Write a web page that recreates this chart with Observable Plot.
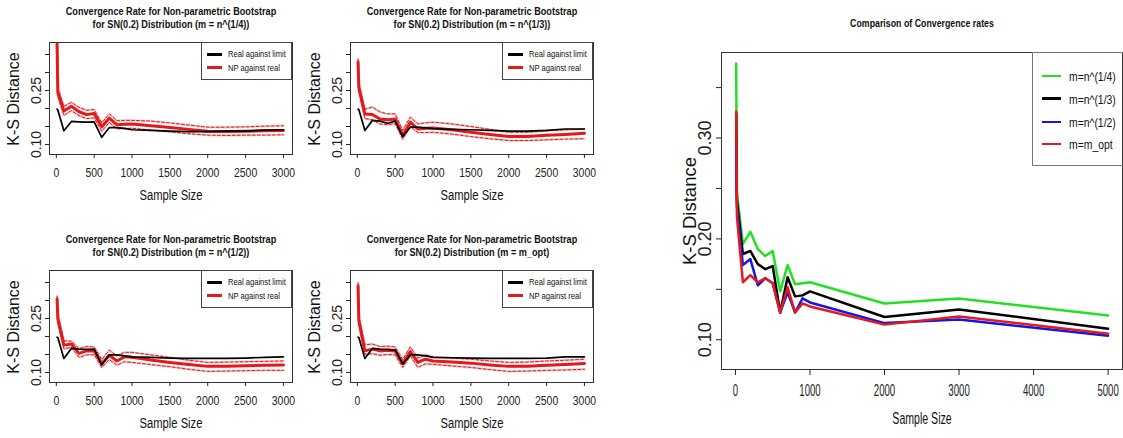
<!DOCTYPE html>
<html><head><meta charset="utf-8">
<script src="https://cdn.jsdelivr.net/npm/d3@7"></script>
<script src="https://cdn.jsdelivr.net/npm/@observablehq/plot@0.6"></script>
<style>
html,body{margin:0;padding:0;background:#fff;overflow:hidden}
#root{position:relative;width:1123px;height:438px;overflow:hidden;font-family:"Liberation Sans",Arial,sans-serif;color:#111;background:#fff}
.abs{position:absolute;white-space:nowrap;line-height:1}
.plot{position:absolute}
</style></head><body><div id="root"></div>
<script>
// ---------- data ----------
const sampleSmall = [10,20,100,200,300,400,500,600,700,800,900,1000,1250,1500,1750,2000,2250,2500,2750,3000];

const real14 = [0.198,0.196,0.138,0.164,0.163,0.162,0.163,0.120,0.147,0.147,0.145,0.141,0.139,0.137,0.136,0.136,0.137,0.137,0.140,0.141];
const np14   = [0.380,0.245,0.193,0.206,0.191,0.183,0.186,0.149,0.173,0.155,0.156,0.157,0.152,0.147,0.142,0.137,0.136,0.137,0.138,0.139];
const hi14   = [0.383,0.258,0.206,0.217,0.203,0.195,0.197,0.160,0.185,0.166,0.167,0.167,0.165,0.160,0.154,0.148,0.148,0.149,0.151,0.152];
const lo14   = [0.370,0.234,0.181,0.194,0.180,0.172,0.174,0.137,0.161,0.144,0.144,0.145,0.140,0.135,0.130,0.126,0.125,0.126,0.126,0.127];

const real13 = [0.198,0.197,0.139,0.167,0.165,0.159,0.165,0.122,0.148,0.148,0.146,0.144,0.142,0.141,0.139,0.137,0.137,0.139,0.143,0.143];
const np13   = [0.329,0.259,0.185,0.183,0.171,0.169,0.171,0.125,0.162,0.143,0.145,0.146,0.141,0.134,0.128,0.122,0.122,0.126,0.128,0.131];
const hi13   = [0.337,0.270,0.198,0.204,0.190,0.185,0.185,0.139,0.176,0.157,0.160,0.162,0.157,0.150,0.142,0.134,0.134,0.138,0.141,0.143];
const lo13   = [0.321,0.248,0.172,0.168,0.157,0.155,0.158,0.115,0.150,0.133,0.133,0.134,0.129,0.122,0.116,0.111,0.111,0.113,0.115,0.116];

const real12 = [0.198,0.197,0.139,0.167,0.165,0.164,0.165,0.121,0.149,0.149,0.146,0.1435,0.142,0.140,0.139,0.139,0.139,0.140,0.142,0.1435];
const np12   = [0.304,0.250,0.176,0.179,0.153,0.160,0.160,0.125,0.148,0.132,0.1435,0.142,0.135,0.128,0.122,0.117,0.117,0.119,0.120,0.121];
const hi12   = [0.312,0.262,0.188,0.187,0.166,0.172,0.171,0.136,0.162,0.146,0.156,0.156,0.149,0.142,0.134,0.128,0.129,0.130,0.131,0.132];
const lo12   = [0.296,0.238,0.166,0.170,0.142,0.149,0.149,0.114,0.136,0.120,0.130,0.128,0.122,0.116,0.109,0.103,0.104,0.105,0.106,0.106];

const realOpt = [0.198,0.197,0.139,0.167,0.165,0.164,0.163,0.123,0.149,0.149,0.146,0.142,0.141,0.140,0.139,0.139,0.139,0.140,0.1435,0.1435];
const npOpt   = [0.341,0.245,0.160,0.165,0.160,0.162,0.160,0.125,0.158,0.128,0.137,0.132,0.129,0.126,0.121,0.117,0.117,0.120,0.122,0.125];
const hiOpt   = [0.349,0.257,0.177,0.179,0.172,0.173,0.171,0.136,0.171,0.140,0.149,0.1435,0.140,0.137,0.132,0.128,0.129,0.132,0.134,0.137];
const loOpt   = [0.333,0.233,0.151,0.152,0.148,0.150,0.149,0.114,0.146,0.114,0.124,0.123,0.118,0.114,0.108,0.103,0.104,0.106,0.107,0.109];

const sampleBig = [10,20,100,200,300,400,500,600,700,800,900,1000,2000,3000,5000];
const bigQuarter = [0.374,0.245,0.195,0.207,0.190,0.183,0.188,0.148,0.174,0.155,0.156,0.157,0.136,0.141,0.124];
const bigThird   = [0.324,0.238,0.185,0.188,0.175,0.170,0.173,0.127,0.162,0.143,0.144,0.148,0.1225,0.130,0.111];
const bigHalf    = [0.290,0.232,0.174,0.180,0.154,0.161,0.156,0.127,0.147,0.127,0.141,0.137,0.1165,0.120,0.104];
const bigOpt     = [0.326,0.222,0.157,0.164,0.157,0.161,0.156,0.127,0.152,0.127,0.136,0.133,0.115,0.123,0.106];

const titleLine1 = "Convergence Rate for Non-parametric Bootstrap";
const panelMethods = ["n^(1/4)", "n^(1/3)", "n^(1/2)", "m_opt"];
const legendSmall = ["Real against limit", "NP against real"];
const bigTitle = "Comparison of Convergence rates";
const bigNames = ["m=n^(1/4)", "m=n^(1/3)", "m=n^(1/2)", "m=m_opt"];
const xLabel = "Sample Size";
const yLabel = "K-S Distance";
const xTicksSmall = [0,500,1000,1500,2000,2500,3000];
const xTicksBig = [0,1000,2000,3000,4000,5000];
const yTicks = [0.10,0.15,0.20,0.25,0.30,0.35];
const yLabelsSmall = [0.10,0.25];
const yLabelsBig = [0.10,0.20,0.30];

// ---------- styling ----------
const RED = "#e3191c";
const bigColors = ["#22e022", "#000000", "#1515e3", RED];
const FONT = '"Liberation Sans", Arial, sans-serif';
const root = document.getElementById("root");

function txt(s, x, y, o = {}) {
  const d = document.createElement("div");
  d.className = "abs";
  d.textContent = s;
  d.style.left = x + "px";
  d.style.top = y + "px";
  d.style.fontSize = (o.size || 12) + "px";
  if (o.bold) d.style.fontWeight = "bold";
  if (o.rotate) d.style.transform = "translate(-50%,-50%) rotate(-90deg)";
  else if (o.anchor === "start") { d.style.transformOrigin = "0 50%"; d.style.transform = `translateY(-50%) scaleX(${o.sx || 1})`; }
  else d.style.transform = `translate(-50%,-50%) scaleX(${o.sx || 1})`;
  root.appendChild(d);
  return d;
}
function box(x, y, w, h, css) {
  const d = document.createElement("div");
  d.style.position = "absolute";
  d.style.left = x + "px"; d.style.top = y + "px";
  d.style.width = w + "px"; d.style.height = h + "px";
  d.style.boxSizing = "border-box";
  Object.assign(d.style, css);
  root.appendChild(d);
  return d;
}
function place(svg, x, y) {
  const wrap = document.createElement("div");
  wrap.className = "plot";
  wrap.style.left = x + "px"; wrap.style.top = y + "px";
  wrap.appendChild(svg);
  root.appendChild(wrap);
}
// narrow horizontal tick labels like the reference (scale about each label's anchor)
function squish(svg, f) {
  svg.querySelectorAll("text").forEach(t => {
    if (t.closest("[transform*='rotate']")) return;
    const tr = t.getAttribute("transform");
    if (tr && tr.includes("translate")) {
      t.setAttribute("transform", `${tr} scale(${f},1)`);
    } else {
      const L = t.getComputedTextLength();
      if (L > 0) { t.setAttribute("textLength", (L * f).toFixed(2)); t.setAttribute("lengthAdjust", "spacingAndGlyphs"); }
    }
  });
}
const fmtY = labels => d => labels.some(v => Math.abs(v - d) < 1e-9) ? d.toFixed(2) : "";

// ---------- small panels ----------
const smallSets = [
  [real14, np14, hi14, lo14],
  [real13, np13, hi13, lo13],
  [real12, np12, hi12, lo12],
  [realOpt, npOpt, hiOpt, loOpt]
];
const offsets = [[0,0],[301,0],[0,228],[301,228]];

smallSets.forEach(([real, np, hi, lo], k) => {
  const [ox, oy] = offsets[k];
  const rows = sampleSmall.map((n, i) => ({n, real: real[i], np: np[i], hi: hi[i], lo: lo[i]}));
  const svg = Plot.plot({
    width: 300, height: 210,
    marginLeft: 49, marginRight: 8, marginTop: 42, marginBottom: 56,
    x: {domain: [-90, 3120]},
    y: {domain: [0.0722, 0.3833]},
    style: {fontFamily: FONT, color: "#222", background: "transparent", overflow: "visible"},
    marks: [
      Plot.line(rows, {x: "n", y: "hi", stroke: "#f3a3a3", strokeWidth: 2.4, strokeOpacity: 0.55, clip: true}),
      Plot.line(rows, {x: "n", y: "lo", stroke: "#f3a3a3", strokeWidth: 2.4, strokeOpacity: 0.55, clip: true}),
      Plot.line(rows, {x: "n", y: "hi", stroke: "#d21f1f", strokeWidth: 1, strokeDasharray: "3,2", clip: true}),
      Plot.line(rows, {x: "n", y: "lo", stroke: "#d21f1f", strokeWidth: 1, strokeDasharray: "3,2", clip: true}),
      Plot.line(rows, {x: "n", y: "np", stroke: RED, strokeWidth: 3, clip: true}),
      Plot.line(rows, {x: "n", y: "real", stroke: "#000", strokeWidth: 1.7, clip: true}),
      Plot.frame({stroke: "#333"}),
      Plot.axisX({ticks: xTicksSmall, tickFormat: d => String(d), tickSize: 4, tickPadding: 10, fontSize: 12.6, label: null}),
      Plot.axisY({ticks: yTicks, tickFormat: fmtY(yLabelsSmall), tickSize: 4, tickPadding: 5, tickRotate: -90, fontSize: 14, label: null})
    ]
  });
  place(svg, ox, oy);
  squish(svg, 0.83);

  txt(titleLine1, ox + 170.5, oy + 10.7, {size: 11, bold: true, sx: 0.83});
  txt(`for SN(0.2) Distribution (m = ${panelMethods[k]})`, ox + 170.5, oy + 23.7, {size: 11, bold: true, sx: 0.83});
  txt(xLabel, ox + 170.5, oy + 195.1, {size: 14, sx: 0.8});
  txt(yLabel, ox + 14.2, oy + 99, {size: 16, rotate: true});

  box(ox + 201, oy + 42, 91, 38, {border: "1px solid #444"});
  box(ox + 207.3, oy + 52.8, 14.4, 3, {background: "#000"});
  box(ox + 207.3, oy + 66.2, 14.4, 3, {background: RED});
  txt(legendSmall[0], ox + 228.3, oy + 54.3, {size: 9.5, anchor: "start", sx: 0.8});
  txt(legendSmall[1], ox + 228.3, oy + 67.7, {size: 9.5, anchor: "start", sx: 0.8});
});

// ---------- big panel ----------
const bigSeries = [bigQuarter, bigThird, bigHalf, bigOpt];
const bigRows = bigSeries.flatMap((vals, s) => sampleBig.map((n, i) => ({n, v: vals[i], s: bigNames[s]})));
const bigSvg = Plot.plot({
  width: 463, height: 438,
  marginLeft: 61, marginRight: 1, marginTop: 52, marginBottom: 69,
  x: {domain: [-187, 5193]},
  y: {domain: [0.0705, 0.3848]},
  color: {domain: bigNames, range: bigColors},
  style: {fontFamily: FONT, color: "#222", background: "transparent", overflow: "visible"},
  marks: [
    Plot.line(bigRows, {x: "n", y: "v", z: "s", stroke: "s", strokeWidth: 2.5, clip: true}),
    Plot.frame({stroke: "#333"}),
    Plot.axisX({ticks: xTicksBig, tickFormat: d => String(d), tickSize: 6, tickPadding: 8, fontSize: 17, label: null}),
    Plot.axisY({ticks: yTicks, tickFormat: fmtY(yLabelsBig), tickSize: 5, tickPadding: 6, tickRotate: -90, fontSize: 18, label: null})
  ]
});
place(bigSvg, 660, 0);
squish(bigSvg, 0.565);

txt(bigTitle, 921.5, 23, {size: 11, bold: true, sx: 0.8});
txt(xLabel, 921.7, 419.3, {size: 16, sx: 0.66});
txt(yLabel, 690, 211, {size: 18.5, rotate: true});

box(1031.7, 52.3, 110, 113.4, {border: "1px solid #777"});
const legY = [76, 98.7, 122, 144];
bigNames.forEach((name, i) => {
  box(1041.7, legY[i] - 1.25, 19.3, 2.5, {background: bigColors[i]});
  txt(name, 1069.3, legY[i], {size: 13, anchor: "start", sx: 0.8});
});
</script>
</body></html>
